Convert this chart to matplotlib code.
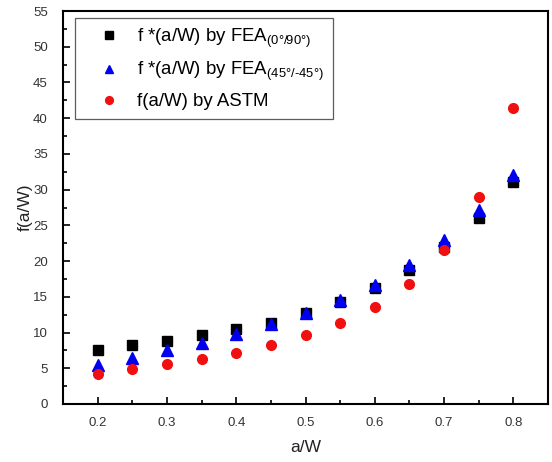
import matplotlib
matplotlib.use("Agg")
import matplotlib.pyplot as plt
from matplotlib.ticker import MultipleLocator

plt.rcParams['font.family'] = ['Liberation Sans', 'DejaVu Sans']
plt.rcParams['mathtext.fontset'] = 'custom'
plt.rcParams['mathtext.rm'] = 'Liberation Sans'
plt.rcParams['mathtext.it'] = 'Liberation Sans'
plt.rcParams['mathtext.default'] = 'regular'

a_w = [0.20, 0.25, 0.30, 0.35, 0.40, 0.45, 0.50, 0.55, 0.60, 0.65, 0.70, 0.75, 0.80]
fea_0_90 = [7.5, 8.2, 8.8, 9.6, 10.5, 11.4, 12.7, 14.3, 16.2, 18.7, 22.0, 26.1, 31.0]
fea_45_45 = [5.5, 6.5, 7.5, 8.6, 9.8, 11.2, 12.7, 14.5, 16.7, 19.5, 22.9, 27.1, 32.0]
astm = [4.2, 4.9, 5.6, 6.3, 7.2, 8.3, 9.6, 11.3, 13.6, 16.8, 21.5, 29.0, 41.4]

labels = [
    'f *(a/W) by FEA$_{(0°/90°)}$',
    'f *(a/W) by FEA$_{(45°/\u201045°)}$',
    'f(a/W) by ASTM',
]

fig = plt.figure(figsize=(5.52, 4.62), dpi=100)
ax = fig.add_axes([63 / 552, 1 - 404 / 462, 485 / 552, 393 / 462])

ax.plot(a_w, fea_0_90, 's', color='black', ms=7, label=labels[0])
ax.plot(a_w, fea_45_45, '^', color='#0000f0', ms=8, label=labels[1])
ax.plot(a_w, astm, 'o', color='#f01010', ms=7, label=labels[2])

ax.set_xlim(0.15, 0.85)
ax.set_ylim(0, 55)
ax.xaxis.set_major_locator(MultipleLocator(0.1))
ax.xaxis.set_minor_locator(MultipleLocator(0.05))
ax.yaxis.set_major_locator(MultipleLocator(5))
ax.yaxis.set_minor_locator(MultipleLocator(2.5))
ax.tick_params(which='both', direction='in', labelsize=9.5, width=1.2, colors='black')
ax.tick_params(which='major', length=5)
ax.tick_params(which='minor', length=3)
ax.tick_params(axis='x', pad=9)
ax.tick_params(axis='y', pad=11)
ax.tick_params(axis='both', labelcolor='#333333')
for s in ax.spines.values():
    s.set_linewidth(1.5)

ax.set_xlabel('a/W', fontsize=12.5, color='#222222', labelpad=8)
ax.set_ylabel('f(a/W)', fontsize=12.5, color='#222222', labelpad=0)

leg = ax.legend(loc='upper left', bbox_to_anchor=(0.025, 0.982), fontsize=13.4,
                frameon=True, fancybox=False, edgecolor='#333333',
                borderaxespad=0, handletextpad=0.2, borderpad=0.45,
                labelspacing=0.55, handlelength=2.7, markerscale=0.8)
leg.get_frame().set_linewidth(0.9)

fig.savefig('out.png', dpi=100)
